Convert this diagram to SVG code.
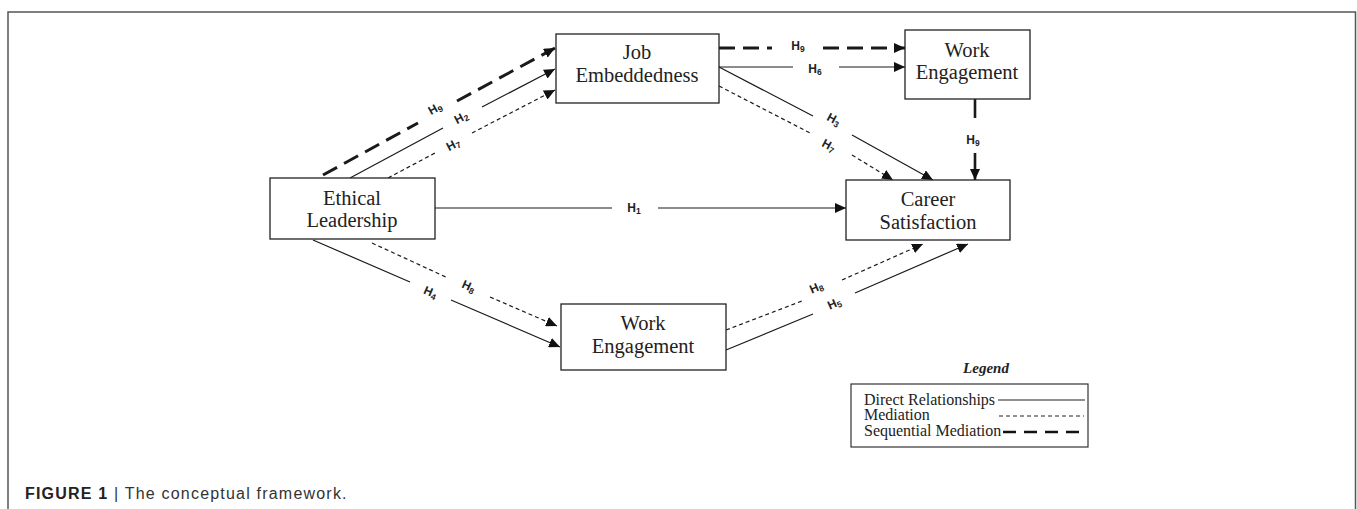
<svg xmlns="http://www.w3.org/2000/svg" width="1357" height="509" viewBox="0 0 1357 509">
  <style>
    .node rect { fill: #fff; stroke: #222; stroke-width: 1.3; }
    .node text { font-family: "Liberation Serif", "Times New Roman", serif; font-size: 20.5px; fill: #222; text-anchor: middle; }
    .c { fill: none; stroke: #1a1a1a; stroke-width: 1.2; }
    .med { stroke-dasharray: 4 3; }
    .seq { stroke-width: 3; stroke-dasharray: 16 8; }
    .thick { stroke-width: 2.6; }
    .lbl { font-family: "Liberation Sans", Arial, sans-serif; font-weight: bold; font-size: 12px; fill: #222; text-anchor: middle; }
    .sub { font-size: 8.5px; }
    .leg { font-family: "Liberation Serif", "Times New Roman", serif; font-size: 16px; fill: #222; }
  </style>
  <defs>
    <marker id="arr" markerUnits="userSpaceOnUse" markerWidth="12" markerHeight="10" refX="11" refY="5" orient="auto">
      <path d="M0,0 L11,5 L0,10 z" fill="#111"/>
    </marker>
  </defs>

  <!-- frame -->
  <path d="M8,509 L8,12 L1355.5,12 L1355.5,509" fill="none" stroke="#555" stroke-width="1.5"/>

  <g id="connectors">
    <!-- EL -> JE -->
    <path class="c seq" d="M323,175 L418,123 M457,101 L555,48" marker-end="url(#arr)"/>
    <path class="c" d="M350,178 L443,128 M482,107 L555,69" marker-end="url(#arr)"/>
    <path class="c med" d="M388,178 L435,153 M472,133 L555,90" marker-end="url(#arr)"/>
    <!-- EL -> CS -->
    <path class="c" d="M435,208 L612,208 M658,208 L846,208" marker-end="url(#arr)"/>
    <!-- JE -> WE top -->
    <path class="c seq" d="M719,48 L772,48 M823,48 L905,48" marker-end="url(#arr)"/>
    <path class="c" d="M719,67 L793,67 M839,67 L905,67" marker-end="url(#arr)"/>
    <!-- JE -> CS -->
    <path class="c" d="M719,67 L813,116 M852,135 L933,180" marker-end="url(#arr)"/>
    <path class="c med" d="M719,86 L812,134 M852,155 L893,180" marker-end="url(#arr)"/>
    <!-- WE top -> CS -->
    <path class="c thick" d="M975,99 L975,118 M975,153 L975,180" marker-end="url(#arr)"/>
    <!-- EL -> WE bottom -->
    <path class="c" d="M313,240 L410,282 M451,300 L560,347" marker-end="url(#arr)"/>
    <path class="c med" d="M372,243 L448,278 M490,297 L557,326" marker-end="url(#arr)"/>
    <!-- WE bottom -> CS -->
    <path class="c med" d="M726,330 L802,301 M842,280 L923,244" marker-end="url(#arr)"/>
    <path class="c" d="M726,350 L813,314 M855,293 L968,244" marker-end="url(#arr)"/>

    <!-- labels -->
    <text class="lbl" transform="translate(437,112) rotate(-28.7)">H<tspan class="sub" dy="2">9</tspan></text>
    <text class="lbl" transform="translate(463,121) rotate(-28)">H<tspan class="sub" dy="2">2</tspan></text>
    <text class="lbl" transform="translate(455,148) rotate(-27.8)">H<tspan class="sub" dy="2">7</tspan></text>
    <text class="lbl" x="634" y="212">H<tspan class="sub" dy="2">1</tspan></text>
    <text class="lbl" x="798" y="50">H<tspan class="sub" dy="2">9</tspan></text>
    <text class="lbl" x="815" y="73">H<tspan class="sub" dy="2">6</tspan></text>
    <text class="lbl" transform="translate(832,123) rotate(27.8)">H<tspan class="sub" dy="2">3</tspan></text>
    <text class="lbl" transform="translate(827,149) rotate(28.4)">H<tspan class="sub" dy="2">7</tspan></text>
    <text class="lbl" x="973" y="144">H<tspan class="sub" dy="2">9</tspan></text>
    <text class="lbl" transform="translate(429,296) rotate(23.4)">H<tspan class="sub" dy="2">4</tspan></text>
    <text class="lbl" transform="translate(467,290) rotate(24.2)">H<tspan class="sub" dy="2">8</tspan></text>
    <text class="lbl" transform="translate(818,291) rotate(-23.6)">H<tspan class="sub" dy="2">8</tspan></text>
    <text class="lbl" transform="translate(836,307) rotate(-23.7)">H<tspan class="sub" dy="2">5</tspan></text>
  </g>

  <g id="ethical-leadership" class="node">
    <rect x="270" y="178" width="165" height="61"/>
    <text x="352" y="205">Ethical</text>
    <text x="352" y="227">Leadership</text>
  </g>
  <g id="job-embeddedness" class="node">
    <rect x="556" y="34" width="163" height="69"/>
    <text x="637" y="59">Job</text>
    <text x="637" y="82">Embeddedness</text>
  </g>
  <g id="work-engagement-top" class="node">
    <rect x="905" y="30" width="125" height="69"/>
    <text x="967" y="57">Work</text>
    <text x="967" y="79">Engagement</text>
  </g>
  <g id="career-satisfaction" class="node">
    <rect x="846" y="180" width="164" height="60"/>
    <text x="928" y="206">Career</text>
    <text x="928" y="229">Satisfaction</text>
  </g>
  <g id="work-engagement-bottom" class="node">
    <rect x="561" y="304" width="165" height="66"/>
    <text x="643" y="330">Work</text>
    <text x="643" y="353">Engagement</text>
  </g>

  <g id="legend">
    <text x="986" y="373" font-family="'Liberation Serif', 'Times New Roman', serif" font-size="15" font-weight="bold" font-style="italic" fill="#222" text-anchor="middle">Legend</text>
    <rect x="851" y="384" width="237" height="63" fill="#fff" stroke="#333" stroke-width="1.2"/>
    <text class="leg" x="864" y="404.5">Direct Relationships</text>
    <text class="leg" x="864" y="420">Mediation</text>
    <text class="leg" x="864" y="436">Sequential Mediation</text>
    <line x1="998" y1="400" x2="1085" y2="400" stroke="#222" stroke-width="1.2"/>
    <line x1="999" y1="416" x2="1084" y2="416" stroke="#222" stroke-width="1" stroke-dasharray="4 3"/>
    <line x1="1003" y1="432" x2="1084" y2="432" stroke="#111" stroke-width="2.6" stroke-dasharray="13 8"/>
  </g>

  <text x="25" y="499" font-family="'Liberation Sans', Arial, sans-serif" font-size="16" fill="#333" letter-spacing="1.2"><tspan font-weight="bold" fill="#222">FIGURE 1</tspan> | The conceptual framework.</text>
</svg>
